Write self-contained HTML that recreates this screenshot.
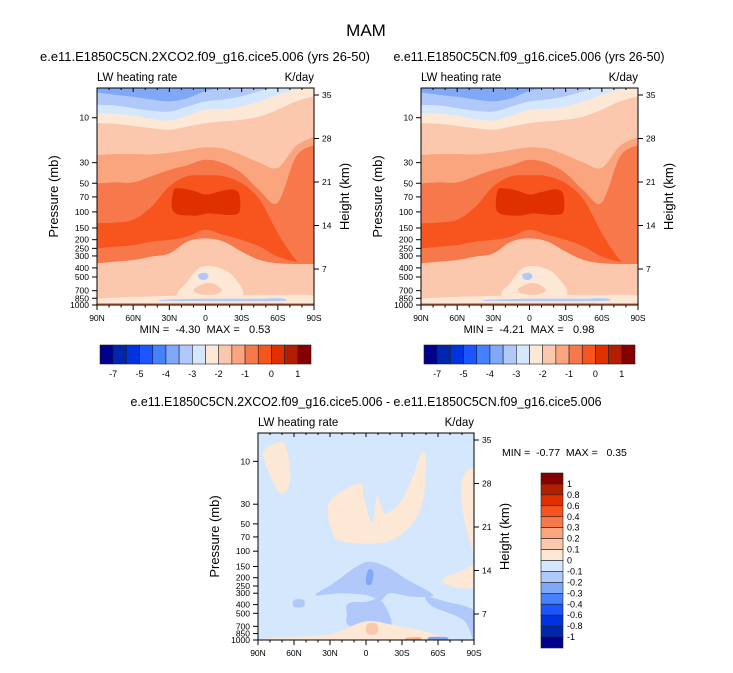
<!DOCTYPE html>
<html><head><meta charset="utf-8"><style>
html,body{margin:0;padding:0;background:#fff;}
svg{display:block;font-family:"Liberation Sans",Arial,sans-serif;}
text{white-space:pre;}
</style></head><body>
<svg id="fig" width="733" height="673" viewBox="0 0 733 673" xmlns="http://www.w3.org/2000/svg">
<text x="366" y="36" font-size="17" text-anchor="middle">MAM</text>
</svg>
<script>
// ---------- data ----------
const colors16 = ["#00008a","#0026b0","#0033e0","#1a55ff","#4580ff","#80a8f8","#b0c8fa","#d5e7fc","#fde8d6","#fcc8ad","#faa57e","#f7784a","#f7541e","#e03000","#b31e00","#850000"];
const topCbLabelIdx = [1,3,5,7,9,11,13,15];
const topCbText = ["-7","-5","-4","-3","-2","-1","0","1"];
const diffCbText = ["1","0.8","0.6","0.4","0.3","0.2","0.1","0","-0.1","-0.2","-0.3","-0.4","-0.6","-0.8","-1"];
const pTicks = [10,30,50,70,100,150,200,250,300,400,500,700,850,1000];
const pFrac = [0.137,0.344,0.439,0.502,0.571,0.645,0.699,0.739,0.774,0.829,0.871,0.934,0.969,1.0];
const hTicks = [35,28,21,14,7];
const latTicks = [90,60,30,0,-30,-60,-90];
const latLabels = ["90N","60N","30N","0","30S","60S","90S"];
const bandLats = [90,75,60,45,30,15,0,-15,-30,-45,-60,-75,-90];
// contour boundaries (pressure, mb) for mean LW heating panels
const B1 = [5.4,5.7,6.0,6.4,6.7,6.2,5.2,4.8,4.4,4.3,3.9,3.6,3.6];
const B2 = [7.3,7.4,7.9,8.4,8.6,7.6,6.7,6.4,5.9,5.2,4.6,4.4,4.3];
const B3 = [8.9,9.1,9.5,10.3,10.7,9.5,8.2,8.1,7.6,6.7,5.7,5.0,4.8];
const B4 = [11.4,11.6,12.2,12.9,13.4,12.4,11.4,10.9,10.5,9.7,8.2,6.7,5.9];
const B5 = [24.9,24.3,24.3,24.5,23.5,22.0,20.6,21.3,24.9,30,34,20,16];
const B6 = [50,49,49,42,36,32,28,30.5,39,60,80,26,19.5];
const B7 = [133,131,122,89,54,42,41,42,50,75,171,330,457];
const B8 = [250,239,230,210,201,185,157,178,201,239,305,344,358];
const B9 = [358,344,331,305,282,210,194,210,270,331,358,364,364];
const bandColors = ["#b0c8fa","#d5e7fc","#fde8d6","#fcc8ad","#faa57e","#f7784a","#f7541e","#f7784a","#fcc8ad"];
const darkCore = [[26.5,60],[20,57],[10,60],[0,66],[-10,62],[-22,58],[-28,66],[-28,100],[-20,108],[-5,104],[0,105],[10,110],[26.5,100]];
const paleBlob = [[21,817],[15,560],[5,400],[-8,390],[-22,480],[-29,817]];
const salmonBlob = [[10,680],[0,583],[-8,600],[-13.5,700],[-5,781],[5,760]];
const blueDot = [[5.8,470],[0,452],[-2.5,500],[1,538],[5,520]];
const lowStrip = [[90,860],[30,800],[0,790],[-60,780],[-90,800],[-90,1000],[90,1000]];
const lowStreak = [[35,880],[0,860],[-40,860],[-62,850],[-62,905],[0,912],[35,905]];
const surfRed = [[90,960],[-90,960],[-90,1000],[90,1000]];
// difference panel blobs
const dLeft = [[85,7.6],[74,6.2],[67,6.7],[63,14.8],[67,21.8],[74,20.8],[84,10.5]];
const dU = [[30,28],[5,17.6],[2,24.8],[-5,49],[-9,24.8],[-13,32],[-16,38],[-28,29.3],[-39,14.8],[-46,8.2],[-50,9.3],[-48,24.8],[-39,49],[-17,79],[19,79],[28.5,59]];
const dRight = [[-81,14.8],[-90,13.6],[-90,89],[-88,89],[-82,45],[-79.5,24.8]];
const dRightLow = [[-64,210],[-81,164],[-90,151],[-90,255],[-72.5,255]];
const dArch = [[42,314],[27,232],[8,151],[-3,132],[-17,151],[-34,210],[-56,314],[-39,328],[-20,300],[-12,356],[0,314],[22,300]];
const dLower = [[14.7,387],[-0.5,372],[-12,356],[-21,593],[-17,741],[13,700],[16,500]];
const dRightBlue = [[-50,328],[-67,372],[-84,422],[-90,500],[-90,1000],[-81,593],[-56,422]];
const dSmall = [[60,356],[52,356],[52,422],[60,422]];
const dCore = [[-2,164],[-6,170],[-5,230],[-1,243],[0,210]];
const dStrip = [[78,950],[55,920],[27,850],[0,617],[-28,700],[-56,850],[-59,1000],[78,1000]];
const dRedSpot = [[-1,660],[-9,660],[-9,850],[-1,850]];
const dRedSpot2 = [[-34,950],[-45,940],[-45,1000],[-34,1000]];
const dBlueSpot = [[-53,930],[-67,930],[-67,1000],[-53,1000]];

// ---------- helpers ----------
const NS="http://www.w3.org/2000/svg";
const svg=document.getElementById('fig');
function mk(tag,attrs,parent){const e=document.createElementNS(NS,tag);for(const k in attrs)e.setAttribute(k,attrs[k]);(parent||svg).appendChild(e);return e;}
function fracOf(p){
  if(p<=pTicks[0]){return pFrac[0]-(Math.log10(pTicks[0])-Math.log10(p))*(pFrac[1]-pFrac[0])/(Math.log10(30)-1);}
  for(let i=0;i<pTicks.length-1;i++){if(p<=pTicks[i+1]){const t=(Math.log10(p)-Math.log10(pTicks[i]))/(Math.log10(pTicks[i+1])-Math.log10(pTicks[i]));return pFrac[i]+t*(pFrac[i+1]-pFrac[i]);}}
  return 1;
}
function makeAxes(x0,x1,y0,y1){
  return {x:lat=>x0+(90-lat)/180*(x1-x0), y:p=>y0+fracOf(p)*(y1-y0), x0,x1,y0,y1};
}
function crPath(pts,closed){
  const n=pts.length;let d=`M${pts[0][0].toFixed(1)},${pts[0][1].toFixed(1)}`;
  const last=closed?n:n-1;
  for(let i=0;i<last;i++){
    const p1=pts[i],p2=pts[(i+1)%n];
    const a=(closed||i>0)?pts[(i-1+n)%n]:p1;
    const b=(closed||i+2<n)?pts[(i+2)%n]:p2;
    const c1=[p1[0]+(p2[0]-a[0])/6,p1[1]+(p2[1]-a[1])/6],c2=[p2[0]-(b[0]-p1[0])/6,p2[1]-(b[1]-p1[1])/6];
    d+=`C${c1[0].toFixed(1)},${c1[1].toFixed(1)} ${c2[0].toFixed(1)},${c2[1].toFixed(1)} ${p2[0].toFixed(1)},${p2[1].toFixed(1)}`;
  }
  return d+(closed?'Z':'');
}
function blob(g,ax,pts,color,name){
  const P=pts.map(q=>[ax.x(q[0]),ax.y(q[1])]);
  const e=mk('path',{d:crPath(P,true),fill:color},g);
  
  
}
let clipN=0;
function axesFrame(ax,g){
  const {x0,x1,y0,y1}=ax;
  mk('rect',{x:x0,y:y0,width:x1-x0,height:y1-y0,fill:'none',stroke:'#000','stroke-width':1},g);
  pTicks.forEach((p,i)=>{const y=ax.y(p);
    mk('line',{x1:x0-5,x2:x0,y1:y,y2:y,stroke:'#000'},g);
    const t=mk('text',{x:x0-8,y:y+3,'font-size':8.5,'text-anchor':'end'},g);t.textContent=p;
    
    
  });
  hTicks.forEach(h=>{const y=y0+7+(35-h)*6.214;
    mk('line',{x1:x1,x2:x1+5,y1:y,y2:y,stroke:'#000'},g);
    const t=mk('text',{x:x1+8,y:y+3,'font-size':8.5},g);t.textContent=h;
    
    
  });
  for(let lat=90;lat>=-90;lat-=10){const x=ax.x(lat);
    const major=lat%30===0;
    mk('line',{x1:x,x2:x,y1:y1,y2:y1+(major?5:2.5),stroke:'#000'},g);
    mk('line',{x1:x,x2:x,y1:y0,y2:y0+(major?4:2),stroke:'#000'},g);
  }
  latTicks.forEach((lat,i)=>{const t=mk('text',{x:ax.x(lat),y:y1+16,'font-size':8.5,'text-anchor':'middle'},g);t.textContent=latLabels[i];
    
    
  });
  const yl=mk('text',{transform:`translate(${x0-39},${(y0+y1)/2}) rotate(-90)`,'font-size':13,'text-anchor':'middle'},g);yl.textContent='Pressure (mb)';
  
  
  const yr=mk('text',{transform:`translate(${x1+35},${(y0+y1)/2}) rotate(-90)`,'font-size':13,'text-anchor':'middle'},g);yr.textContent='Height (km)';
  
  
  const l1=mk('text',{x:x0,y:y0-7,'font-size':11.5},g);l1.textContent='LW heating rate';
  
  
  const l2=mk('text',{x:x1,y:y0-7,'font-size':11.5,'text-anchor':'end'},g);l2.textContent='K/day';
  
  
}
function clipGroup(ax,g){
  const id='clip'+(clipN++);
  const defs=mk('defs',{},g);
  const cp=mk('clipPath',{id},defs);mk('rect',{x:ax.x0,y:ax.y0,width:ax.x1-ax.x0,height:ax.y1-ax.y0},cp);
  const cg=mk('g',{'clip-path':`url(#${id})`},g);
  return cg;
}
function meanPanel(x0,name,title,titleLen,minmax){
  const g=mk('g',{});
  const ax=makeAxes(x0,x0+217,88,305);
  const cg=clipGroup(ax,g);
  mk('rect',{x:ax.x0,y:ax.y0,width:217,height:217,fill:'#80a8f8'},cg);
  [B1,B2,B3,B4,B5,B6,B7,B8,B9].forEach((B,k)=>{
    const P=bandLats.map((lat,i)=>[ax.x(lat),ax.y(B[i])]);
    let d=crPath(P,false);
    d+=`L${ax.x1+3},${P[P.length-1][1].toFixed(1)}L${ax.x1+3},${ax.y1+3}L${ax.x0-3},${ax.y1+3}L${ax.x0-3},${P[0][1].toFixed(1)}Z`;
    const e=mk('path',{d,fill:bandColors[k]},cg);
    
    
  });
  blob(cg,ax,darkCore,'#e03000','max-heating-core');
  blob(cg,ax,lowStrip,'#fde8d6','boundary-layer-band');
  blob(cg,ax,paleBlob,'#fde8d6','tropical-troposphere-blob');
  blob(cg,ax,salmonBlob,'#fcc8ad','lower-tropo-blob');
  blob(cg,ax,blueDot,'#b0c8fa','cooling-spot');
  blob(cg,ax,lowStreak,'#b0c8fa','surface-cooling-streak');
  blob(cg,ax,surfRed,'#f7784a','surface-heating-band');
  axesFrame(ax,g);
  const t=mk('text',{x:x0+108,y:61,'font-size':12.5,'text-anchor':'middle',textLength:titleLen,lengthAdjust:'spacingAndGlyphs'},g);t.textContent=title;
  
  
  const m=mk('text',{x:x0+108,y:333,'font-size':11,'text-anchor':'middle'},g);m.textContent=minmax;
  
  
  const cb=mk('g',{},g);
  const cx0=x0+3,bw=211/16;
  colors16.forEach((c,i)=>{const r=mk('rect',{x:cx0+i*bw,y:345,width:bw,height:19,fill:c,stroke:'#222','stroke-width':0.6},cb);
    });
  topCbLabelIdx.forEach((k,i)=>{const tt=mk('text',{x:cx0+k*bw,y:377,'font-size':9,'text-anchor':'middle'},cb);tt.textContent=topCbText[i];
    });
}
meanPanel(97,'panel-2xco2','e.e11.E1850C5CN.2XCO2.f09_g16.cice5.006 (yrs 26-50)',330,'MIN =  -4.30  MAX =   0.53');
meanPanel(421,'panel-control','e.e11.E1850C5CN.f09_g16.cice5.006 (yrs 26-50)',271,'MIN =  -4.21  MAX =   0.98');

// difference panel
(function(){
  const g=mk('g',{});
  const ax=makeAxes(258,474,433,640);
  const cg=clipGroup(ax,g);
  mk('rect',{x:ax.x0,y:ax.y0,width:216,height:207,fill:'#d5e7fc'},cg);
  blob(cg,ax,dLeft,'#fde8d6','diff-positive-blob');
  blob(cg,ax,dU,'#fde8d6','diff-positive-blob');
  blob(cg,ax,dRight,'#fde8d6','diff-positive-blob');
  blob(cg,ax,dRightLow,'#fde8d6','diff-positive-blob');
  blob(cg,ax,dArch,'#b0c8fa','diff-negative-blob');
  blob(cg,ax,dLower,'#b0c8fa','diff-negative-blob');
  blob(cg,ax,dRightBlue,'#b0c8fa','diff-negative-blob');
  blob(cg,ax,dSmall,'#b0c8fa','diff-negative-blob');
  blob(cg,ax,dCore,'#80a8f8','diff-negative-core');
  blob(cg,ax,dStrip,'#fde8d6','diff-surface-band');
  blob(cg,ax,dRedSpot,'#fcc8ad','diff-positive-spot');
  blob(cg,ax,dRedSpot2,'#faa57e','diff-positive-spot');
  blob(cg,ax,dBlueSpot,'#80a8f8','diff-negative-spot');
  axesFrame(ax,g);
  const t=mk('text',{x:366,y:406,'font-size':12.5,'text-anchor':'middle',textLength:471,lengthAdjust:'spacingAndGlyphs'},g);
  t.textContent='e.e11.E1850C5CN.2XCO2.f09_g16.cice5.006 - e.e11.E1850C5CN.f09_g16.cice5.006';
  
  const m=mk('text',{x:502,y:456,'font-size':10.5},g);m.textContent='MIN =  -0.77  MAX =   0.35';
  
  const cb=mk('g',{},g);
  const bh=175/16;
  colors16.slice().reverse().forEach((c,i)=>{const r=mk('rect',{x:541,y:473+i*bh,width:22,height:bh,fill:c,stroke:'#222','stroke-width':0.6},cb);
    });
  diffCbText.forEach((s,i)=>{const tt=mk('text',{x:567,y:473+(i+1)*bh+3,'font-size':9},cb);tt.textContent=s;
    });
})();
</script>
</body></html>
